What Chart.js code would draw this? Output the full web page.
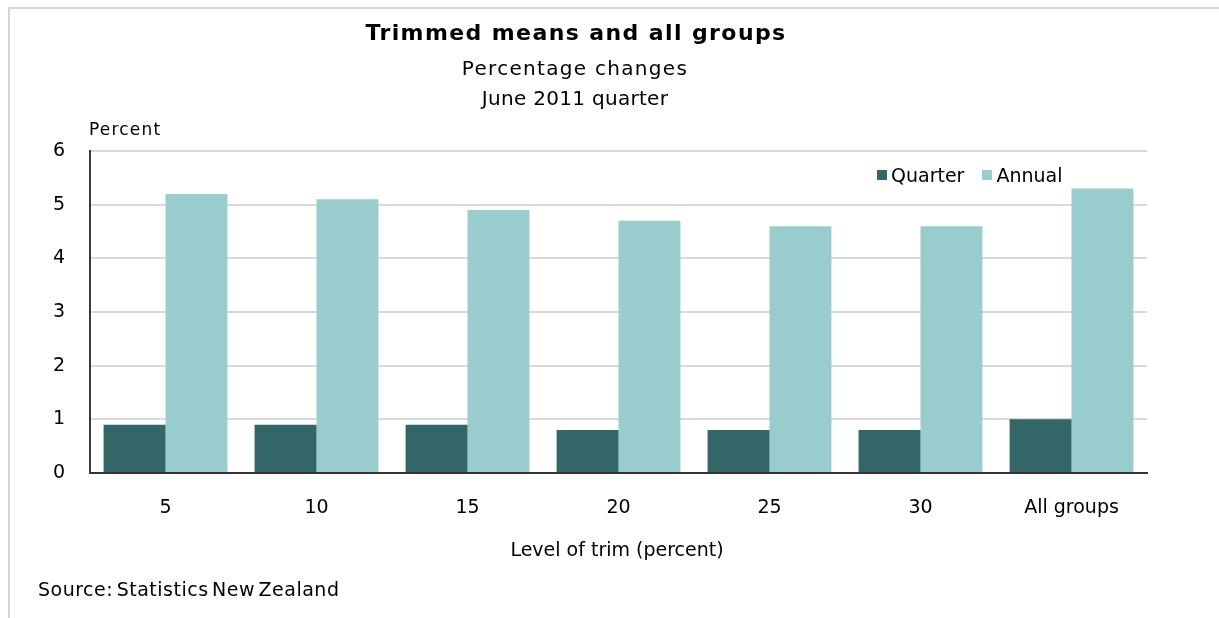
<!DOCTYPE html>
<html>
<head>
<meta charset="utf-8">
<script src="https://cdn.jsdelivr.net/npm/chart.js@4"></script>
<style>
    body { margin: 0; background: #fff; font-family: "DejaVu Sans", sans-serif; color: #000; overflow: hidden; }
    .wrap { position: relative; width: 1219px; height: 618px; overflow: hidden; }
    .txt { position: absolute; white-space: nowrap; line-height: 1; }
    .title { left: 576px; top: 22px; transform: translateX(-50%); font-weight: bold; font-size: 22px; letter-spacing: 1.4px; }
    .sub1 { left: 575px; top: 58px; transform: translateX(-50%); font-size: 20px; letter-spacing: 1.3px; }
    .sub2 { left: 575px; top: 88px; transform: translateX(-50%); font-size: 20px; letter-spacing: 0.3px; }
    .ytitle { left: 89px; top: 121px; font-size: 17px; letter-spacing: 1.2px; }
    .xtitle { left: 617px; top: 540px; transform: translateX(-50%); font-size: 19px; }
    .source { left: 38px; top: 580px; font-size: 19px; letter-spacing: 0.5px; word-spacing: -3px; }
    .legend { position: absolute; left: 877px; top: 164px; font-size: 19px; display: flex; align-items: center; }
    .legend span.sw { display: inline-block; width: 10px; height: 10px; margin-right: 4px; }
    .legend span.lb { margin-right: 18px; }
    canvas { position: absolute; left: 0; top: 0; }
</style>
</head>
<body>
<div class="wrap">
    <canvas id="chart" width="1219" height="618"></canvas>
    <div class="txt title">Trimmed means and all groups</div>
    <div class="txt sub1">Percentage changes</div>
    <div class="txt sub2">June 2011 quarter</div>
    <div class="txt ytitle">Percent</div>
    <div class="txt xtitle">Level of trim (percent)</div>
    <div class="txt source">Source: Statistics New Zealand</div>
    <div class="legend" id="legend"></div>
</div>
<script>
// Chart data
const categories = ['5', '10', '15', '20', '25', '30', 'All groups'];
const seriesNames = ['Quarter', 'Annual'];
const quarterValues = [0.9, 0.9, 0.9, 0.8, 0.8, 0.8, 1.0];
const annualValues = [5.2, 5.1, 4.9, 4.7, 4.6, 4.6, 5.3];
const yTicks = [0, 1, 2, 3, 4, 5, 6];

const seriesColors = ['#336666', '#99cccc'];

document.addEventListener('DOMContentLoaded', function() {
    buildLegend();
    buildChart();
});

// Legend drawn inside the plot area, top right
function buildLegend() {
    const legend = document.getElementById('legend');
    seriesNames.forEach((name, i) => {
        legend.innerHTML += `<span class="sw" style="background:${seriesColors[i]}"></span><span class="lb">${name}</span>`;
    });
}

// Light grey frame along the top and left edges of the image
const framePlugin = {
    id: 'frame',
    beforeDraw(chart) {
        const c = chart.ctx;
        c.save();
        c.strokeStyle = '#d4d4d4';
        c.lineWidth = 2;
        c.beginPath();
        c.moveTo(9, chart.height);
        c.lineTo(9, 8);
        c.lineTo(chart.width, 8);
        c.stroke();
        c.restore();
    }
};

function buildChart() {
    const ctx = document.getElementById('chart').getContext('2d');

    new Chart(ctx, {
        type: 'bar',
        data: {
            labels: categories,
            datasets: [
                {
                    label: seriesNames[0],
                    data: quarterValues,
                    backgroundColor: seriesColors[0],
                    categoryPercentage: 0.82,
                    barPercentage: 1.0
                },
                {
                    label: seriesNames[1],
                    data: annualValues,
                    backgroundColor: seriesColors[1],
                    categoryPercentage: 0.82,
                    barPercentage: 1.0
                }
            ]
        },
        options: {
            responsive: false,
            animation: false,
            layout: {
                padding: { top: 151, right: 72, bottom: 0, left: 0 }
            },
            plugins: {
                legend: { display: false },
                title: { display: false },
                tooltip: { enabled: false }
            },
            scales: {
                x: {
                    afterFit: function(scale) { scale.height = 145; },
                    grid: { display: false, drawTicks: false },
                    border: { display: true, color: '#333333', width: 2 },
                    ticks: {
                        padding: 24,
                        color: '#000',
                        font: { family: 'DejaVu Sans', size: 19 }
                    }
                },
                y: {
                    min: yTicks[0],
                    max: yTicks[yTicks.length - 1],
                    afterFit: function(scale) { scale.width = 90; },
                    afterBuildTicks: function(scale) {
                        scale.ticks = yTicks.map(v => ({ value: v }));
                    },
                    grid: { color: '#d9d9d9', lineWidth: 2, drawTicks: false },
                    border: { display: true, color: '#3a3a3a', width: 2 },
                    ticks: {
                        padding: 25,
                        color: '#000',
                        font: { family: 'DejaVu Sans', size: 19 }
                    }
                }
            }
        },
        plugins: [framePlugin]
    });
}
</script>
</body>
</html>
